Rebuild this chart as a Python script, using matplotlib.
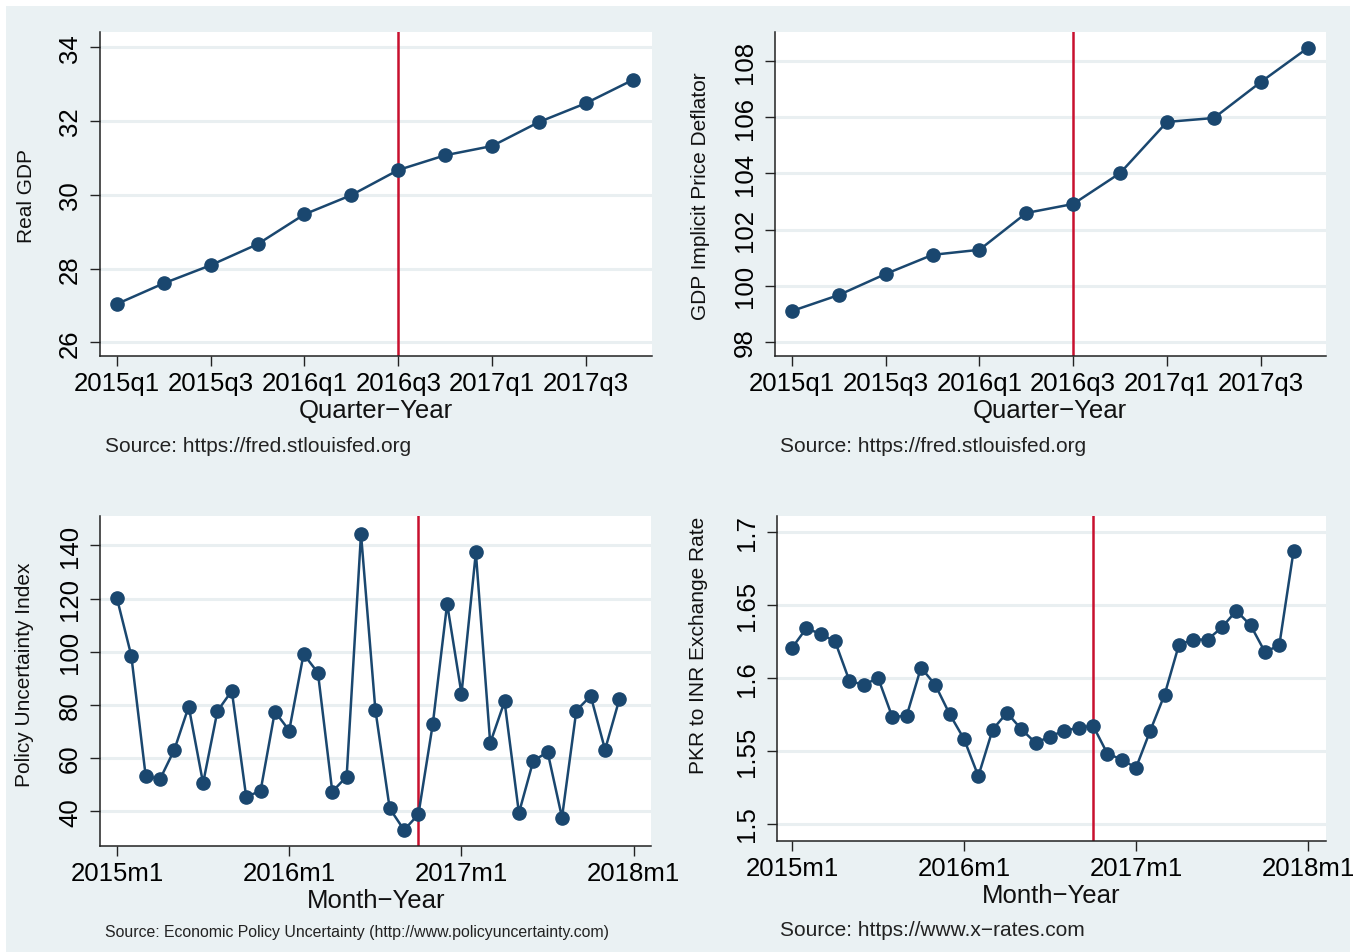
import matplotlib
matplotlib.use("Agg")
import matplotlib.pyplot as plt
from matplotlib.patches import Rectangle

plt.rcParams['font.family'] = ['Liberation Sans', 'DejaVu Sans']

# ---- data ----
quarters = ["2015q1", "2015q2", "2015q3", "2015q4", "2016q1", "2016q2",
            "2016q3", "2016q4", "2017q1", "2017q2", "2017q3", "2017q4"]
real_gdp = [27.04, 27.6, 28.09, 28.66, 29.47, 29.99,
            30.67, 31.07, 31.32, 31.97, 32.48, 33.11]
gdp_deflator = [99.10, 99.67, 100.42, 101.10, 101.28, 102.59,
                102.91, 104.01, 105.83, 105.97, 107.25, 108.46]

months = [f"{y}m{m}" for y in (2015, 2016, 2017) for m in range(1, 13)]
policy_uncertainty = [120.1, 98.5, 53.4, 52.1, 63.2, 79.4, 50.6, 77.7, 85.3, 45.6, 47.6, 77.5,
                      70.4, 99.1, 92.1, 47.4, 53.1, 144.3, 78.2, 41.1, 33.0, 38.9, 72.8, 118.0,
                      84.2, 137.3, 65.7, 81.3, 39.4, 59.0, 62.3, 37.7, 77.9, 83.4, 63.2, 82.2]
pkr_inr = [1.6205, 1.634, 1.630, 1.625, 1.598, 1.595, 1.600, 1.573, 1.574, 1.607, 1.595, 1.575,
           1.558, 1.5325, 1.5645, 1.576, 1.5647, 1.5553, 1.5597, 1.5638, 1.5656, 1.5672, 1.548, 1.5439,
           1.5382, 1.5638, 1.5885, 1.6227, 1.6262, 1.6262, 1.6346, 1.646, 1.636, 1.6177, 1.6223, 1.6872]

quarter_ticks = ["2015q1", "2015q3", "2016q1", "2016q3", "2017q1", "2017q3"]
month_ticks = ["2015m1", "2016m1", "2017m1", "2018m1"]
event_quarter = "2016q3"
event_month = "2016m10"

# ---- style ----
W, H = 1369, 953
LINE = "#1a476f"
EVENT = "#c8102e"
BG = "#eaf1f3"
GRID = "#e9eff1"

fig = plt.figure(figsize=(W / 100, H / 100), dpi=100)
fig.patch.set_facecolor("white")
fig.patches.append(Rectangle((6 / W, 0), (1350 - 6) / W, (H - 7) / H,
                             transform=fig.transFigure, facecolor=BG,
                             edgecolor="none", zorder=-10))


def fx(px):
    return px / W


def fy(py):
    return 1 - py / H


def make_axes(left, top, right, bottom):
    return fig.add_axes([fx(left), fy(bottom), fx(right - left), (bottom - top) / H])


def style(ax, yticks, ylim, xlim, xtick_pos, xtick_labels, ytick_fmt):
    ax.set_facecolor("white")
    for s in ("top", "right"):
        ax.spines[s].set_visible(False)
    for s in ("left", "bottom"):
        ax.spines[s].set_linewidth(1.1)
        ax.spines[s].set_color("#222222")
    ax.set_xlim(*xlim)
    ax.set_ylim(*ylim)
    ax.set_yticks(yticks)
    ax.set_yticklabels([ytick_fmt(v) for v in yticks])
    ax.set_xticks(xtick_pos)
    ax.set_xticklabels(xtick_labels)
    ax.tick_params(axis="both", direction="out", length=7, width=1.0, color="#222222")
    ax.tick_params(axis="y", labelsize=18.5, pad=6, labelrotation=90)
    ax.tick_params(axis="x", labelsize=18.5, pad=4)
    for lbl in ax.get_yticklabels():
        lbl.set_va("center")
    ax.grid(axis="y", color=GRID, linewidth=2.2)
    ax.set_axisbelow(True)


def series(ax, x, y, xev):
    ax.axvline(xev, color=EVENT, linewidth=1.8, zorder=2)
    ax.plot(x, y, color=LINE, linewidth=1.8, marker="o", markersize=9.5,
            markerfacecolor=LINE, markeredgecolor=LINE, zorder=3)


qx = list(range(len(quarters)))
mx = list(range(len(months)))
q_tick_pos = [quarters.index(q) for q in quarter_ticks]
m_tick_pos = [12 * i for i in range(len(month_ticks))]

# Real GDP
ax1 = make_axes(100, 33, 652, 357)
series(ax1, qx, real_gdp, quarters.index(event_quarter))
style(ax1, [26, 28, 30, 32, 34], (25.63, 34.41), (-0.36, 11.41),
      q_tick_pos, quarter_ticks, lambda v: f"{v:g}")

# GDP deflator
ax2 = make_axes(775, 33, 1326, 357)
series(ax2, qx, gdp_deflator, quarters.index(event_quarter))
style(ax2, [98, 100, 102, 104, 106, 108], (97.5, 109.03), (-0.36, 11.39),
      q_tick_pos, quarter_ticks, lambda v: f"{v:g}")

# Policy uncertainty
ax3 = make_axes(100, 517, 651, 847)
series(ax3, mx, policy_uncertainty, months.index(event_month))
style(ax3, [40, 60, 80, 100, 120, 140], (27, 151), (-1.18, 37.2),
      m_tick_pos, month_ticks, lambda v: f"{v:g}")

# Exchange rate
ax4 = make_axes(777, 517, 1326, 842)
series(ax4, mx, pkr_inr, months.index(event_month))
style(ax4, [1.5, 1.55, 1.6, 1.65, 1.7], (1.488, 1.711), (-1.05, 37.26),
      m_tick_pos, month_ticks, lambda v: f"{v:g}")

# axis titles
title_kw = dict(fontsize=18.5, ha="center", va="center", color="#111111")
fig.text(fx(376), fy(411), "Quarter\u2212Year", **title_kw)
fig.text(fx(1050), fy(411), "Quarter\u2212Year", **title_kw)
fig.text(fx(376), fy(901), "Month\u2212Year", **title_kw)
fig.text(fx(1051), fy(896), "Month\u2212Year", **title_kw)

ylab_kw = dict(fontsize=15, ha="center", va="center", rotation=90, color="#111111")
fig.text(fx(27), fy(196), "Real GDP", **ylab_kw)
fig.text(fx(700), fy(196), "GDP Implicit Price Deflator", **ylab_kw)
fig.text(fx(25), fy(675), "Policy Uncertainty Index", **ylab_kw)
fig.text(fx(698), fy(645), "PKR to INR Exchange Rate", **ylab_kw)

src_kw = dict(ha="left", va="center", color="#222222")
fig.text(fx(105), fy(446), "Source: https://fred.stlouisfed.org", fontsize=15, **src_kw)
fig.text(fx(780), fy(446), "Source: https://fred.stlouisfed.org", fontsize=15, **src_kw)
fig.text(fx(105), fy(933), "Source: Economic Policy Uncertainty (http://www.policyuncertainty.com)",
         fontsize=11.4, **src_kw)
fig.text(fx(780), fy(931), "Source: https://www.x\u2212rates.com", fontsize=15, **src_kw)

fig.savefig("out.png", dpi=100, facecolor=fig.get_facecolor())
